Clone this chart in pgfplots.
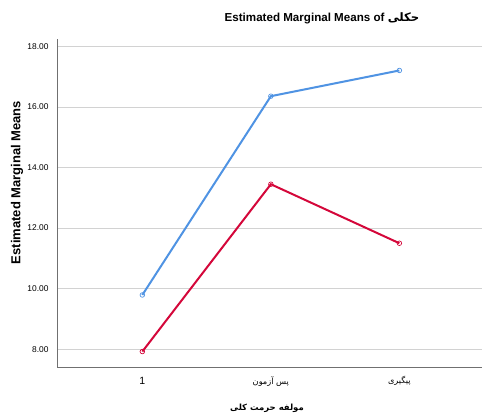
\documentclass[border=0pt]{standalone}
\usepackage{fontspec}
\setmainfont{Liberation Sans}
\newfontfamily\arabicfont[Script=Arabic]{DejaVu Sans}
\TeXXeTstate=1
\usepackage{pgfplots}
\pgfplotsset{compat=1.18}
\definecolor{myblue}{HTML}{4F93E3}
\definecolor{myred}{HTML}{D4073A}
\definecolor{gridgray}{HTML}{D2D2D2}
\definecolor{axgray}{HTML}{707070}
\begin{document}
\begin{tikzpicture}
\useasboundingbox (0pt,0pt) rectangle (482pt,419pt);
\begin{axis}[
  at={(57pt,51.7pt)}, anchor=south west,
  scale only axis, width=425pt, height=328.3pt,
  xmin=-0.664, xmax=2.643, ymin=7.40, ymax=18.25,
  axis x line*=bottom, axis y line*=left,
  axis line style={axgray, line width=0.8pt},
  ytick={8,10,12,14,16,18},
  xtick={0,1,2},
  xticklabels={1,{\arabicfont\fontsize{8.2}{10}\selectfont\beginR پس آزمون\endR},{\arabicfont\fontsize{8.2}{10}\selectfont\beginR پیگیری\endR}},
  major tick length=0pt,
  ymajorgrids, grid style={gridgray, line width=0.8pt},
  /pgf/number format/assume math mode=true,
  yticklabel style={font=\fontsize{8.4}{10}\selectfont, xshift=-5pt,
    /pgf/number format/fixed, /pgf/number format/fixed zerofill, /pgf/number format/precision=2},
  xticklabel style={font=\fontsize{10.5}{12}\selectfont, anchor=center, yshift=-14pt},
  clip=false,
]
\addplot[myblue, line width=2pt, mark=o, mark size=2.3pt, mark options={line width=0.7pt}]
  coordinates {(0,9.79) (1,16.36) (2,17.21)};
\addplot[myred, line width=2pt, mark=o, mark size=2.3pt, mark options={line width=0.7pt}]
  coordinates {(0,7.92) (1,13.45) (2,11.50)};
\end{axis}
\node[font=\bfseries\fontsize{11.6}{14}\selectfont] at (322pt,401pt) {Estimated Marginal Means of {\arabicfont\bfseries\beginR حکلی\endR}};
\node[font=\bfseries\fontsize{13}{15}\selectfont, rotate=90] at (17pt,236.5pt) {Estimated Marginal Means};
\node[font=\arabicfont\bfseries\fontsize{8.5}{10}\selectfont] at (267pt,11pt) {\beginR مولفه حرمت کلی\endR};
\end{tikzpicture}
\end{document}
